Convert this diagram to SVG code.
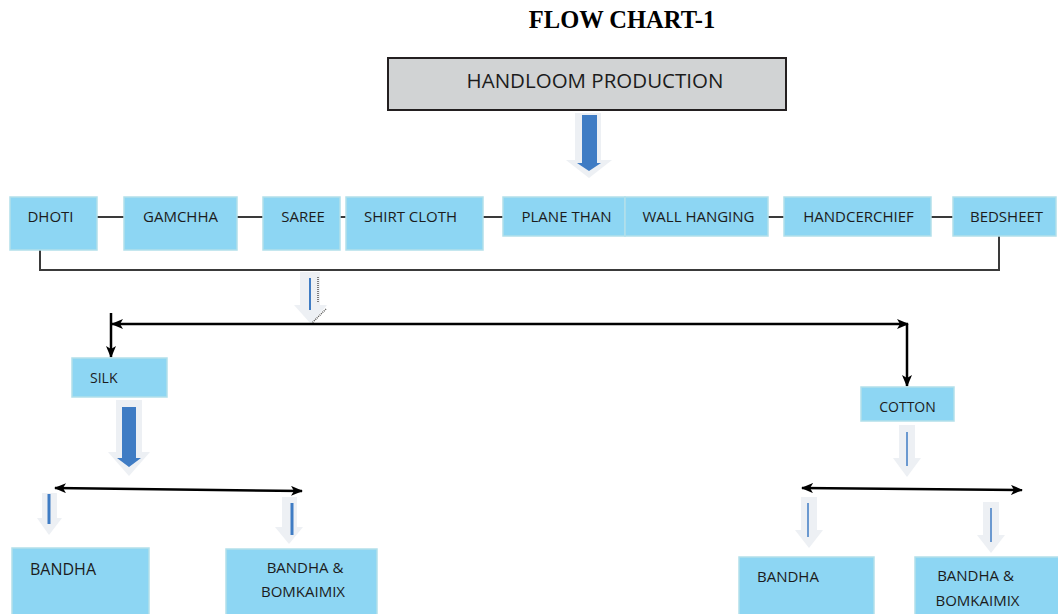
<svg xmlns="http://www.w3.org/2000/svg" width="1058" height="614" viewBox="0 0 1058 614">
<defs>
<style>
.box{fill:#8dd6f3;stroke:#b2dfea;stroke-width:1.5}
.lbl{font-family:"Open Sans","Noto Sans",sans-serif;font-size:15px;fill:#1c1c1c}
.mid{text-anchor:middle}
.link{stroke:#3a3a3a;stroke-width:2;fill:none}
.ctl{stroke:#000;stroke-width:2.5;fill:none}
.ghost{fill:#edf0f4}
.blue{fill:#3f7cc4}
.bl{stroke:#3f7cc4;fill:none}
</style>
<marker id="ah" viewBox="0 0 12 10" refX="11" refY="5" markerWidth="12" markerHeight="10" markerUnits="userSpaceOnUse" orient="auto-start-reverse">
<path d="M0,0 L12,5 L0,10 L3,5 z" fill="#000"/>
</marker>
</defs>
<rect width="1058" height="614" fill="#fff"/>
<text x="622" y="28" text-anchor="middle" font-family="'Liberation Serif',serif" font-weight="bold" font-size="24.5" fill="#000">FLOW CHART-1</text>

<g id="handloom">
<rect x="388" y="58" width="398" height="52" fill="#d1d3d4" stroke="#231f20" stroke-width="2"/>
<text class="lbl mid" x="595" y="88" style="font-size:20.5px">HANDLOOM PRODUCTION</text>
</g>

<g id="connectors">
<path class="ghost" d="M575,113 H601 V160 H612 L589,178 L566,160 H575 Z"/>
<path class="blue" d="M582,115 H597 V163 H601 L589,171 L577,163 H582 Z"/>
<path class="link" d="M97,217 H124 M237,217 H263 M340,217 H346 M483,217 H503 M768,217 H784 M931,217 H953"/>
<path class="link" d="M40,250 V270 H999 V236"/>
<path class="ghost" d="M300,272 H320 V305 H327 L311,324 L294,305 H300 Z"/>
<path class="bl" stroke-width="2" d="M310,278 V310"/>
<path d="M318,277 V303 M326,309 L312,323" stroke="#555" stroke-width="1.5" stroke-dasharray="1 1" fill="none"/>
<path class="ctl" d="M112,324 H908" marker-start="url(#ah)" marker-end="url(#ah)"/>
<path class="ctl" d="M111,313 V357" marker-end="url(#ah)"/>
<path class="ctl" d="M907,324 V386" marker-end="url(#ah)"/>
<path class="ghost" d="M116,400 H142 V452 H150 L129,476 L108,452 H116 Z"/>
<path class="blue" d="M122,407 H136 V458 H141 L129,467 L117,458 H122 Z"/>
<path class="ghost" d="M899,425 H915 V458 H921 L907,477 L893,458 H899 Z"/>
<path class="bl" stroke-width="1.5" d="M907,432 V466"/>
<path class="ctl" d="M55,488 L302,491" marker-start="url(#ah)" marker-end="url(#ah)"/>
<path class="ctl" d="M802,488 L1022,490" marker-start="url(#ah)" marker-end="url(#ah)"/>
<path class="ghost" d="M42,493 H57 V518 H62 L49,535 L37,518 H42 Z"/>
<path class="bl" stroke-width="3" d="M49,494 V524"/>
<path class="ghost" d="M282,497 H297 V527 H303 L289,544 L275,527 H282 Z"/>
<path class="bl" stroke-width="3" d="M292,503 V535"/>
<path class="ghost" d="M801,497 H817 V530 H823 L809,548 L795,530 H801 Z"/>
<path class="bl" stroke-width="1.5" d="M808,503 V537"/>
<path class="ghost" d="M983,502 H999 V535 H1005 L991,553 L977,535 H983 Z"/>
<path class="bl" stroke-width="1.5" d="M991,508 V542"/>
</g>

<g id="dhoti"><rect class="box" x="10" y="197" width="87" height="53"/><text class="lbl mid" x="50.5" y="222">DHOTI</text></g>
<g id="gamchha"><rect class="box" x="124" y="197" width="113" height="53"/><text class="lbl mid" x="180.5" y="222">GAMCHHA</text></g>
<g id="saree"><rect class="box" x="263" y="197" width="77" height="53"/><text class="lbl mid" x="303" y="222">SAREE</text></g>
<g id="shirt-cloth"><rect class="box" x="346" y="197" width="137" height="53"/><text class="lbl mid" x="410.5" y="222">SHIRT CLOTH</text></g>
<g id="plane-than"><rect class="box" x="503" y="197" width="122" height="39"/><text class="lbl mid" x="566.5" y="222">PLANE THAN</text></g>
<g id="wall-hanging"><rect class="box" x="625" y="197" width="143" height="39"/><text class="lbl mid" x="698.5" y="222">WALL HANGING</text></g>
<g id="handcerchief"><rect class="box" x="784" y="197" width="147" height="39"/><text class="lbl mid" x="858.5" y="222">HANDCERCHIEF</text></g>
<g id="bedsheet"><rect class="box" x="953" y="197" width="103" height="39"/><text class="lbl mid" x="1006.5" y="222">BEDSHEET</text></g>

<g id="silk"><rect class="box" x="72" y="358" width="95" height="39"/><text class="lbl" x="90" y="383" style="font-size:14px">SILK</text></g>
<g id="cotton"><rect class="box" x="861" y="387" width="93" height="34"/><text class="lbl mid" x="907.5" y="412" style="font-size:14px">COTTON</text></g>

<g id="silk-bandha"><rect class="box" x="12" y="548" width="137" height="70"/><text class="lbl" x="30" y="575" style="font-size:16px">BANDHA</text></g>
<g id="silk-bandha-bomkai"><rect class="box" x="226" y="549" width="151" height="70"/><text class="lbl mid" x="305" y="573">BANDHA &amp;</text><text class="lbl mid" x="303" y="597">BOMKAIMIX</text></g>
<g id="cotton-bandha"><rect class="box" x="739" y="557" width="135" height="62"/><text class="lbl" x="757" y="582">BANDHA</text></g>
<g id="cotton-bandha-bomkai"><rect class="box" x="915" y="557" width="145" height="62"/><text class="lbl mid" x="975.5" y="581">BANDHA &amp;</text><text class="lbl mid" x="977.5" y="606">BOMKAIMIX</text></g>
</svg>
